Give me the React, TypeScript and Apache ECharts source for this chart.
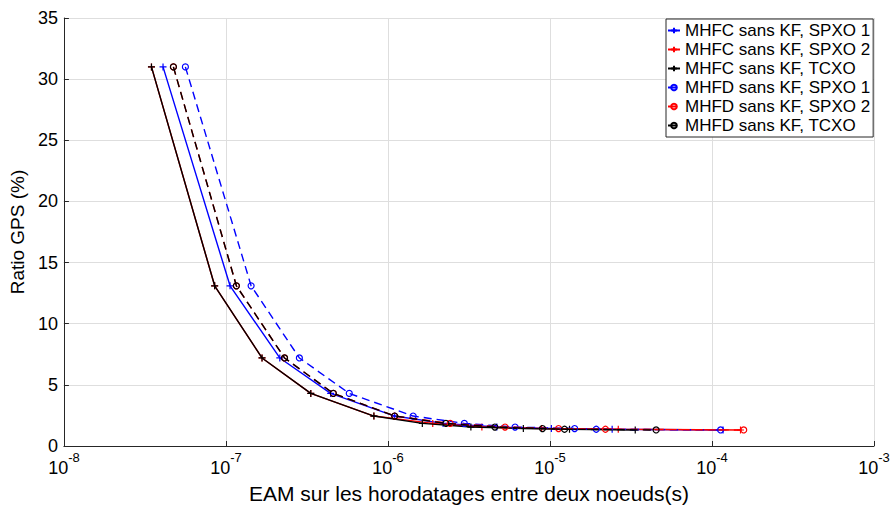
import React, { useEffect, useRef } from "react";
import * as echarts from "echarts";

// Series names (legend)
const seriesNames = [
  "MHFC sans KF, SPXO 1",
  "MHFC sans KF, SPXO 2",
  "MHFC sans KF, TCXO",
  "MHFD sans KF, SPXO 1",
  "MHFD sans KF, SPXO 2",
  "MHFD sans KF, TCXO",
];

// GPS ratio (%) levels, shared by every series
const gpsRatio = [31, 13.1, 7.2, 4.3, 2.45, 1.85, 1.55, 1.43, 1.37, 1.31];

// EAM (s) for each series
const eamMhfcSpxo1 = [4.09e-8, 1.06e-7, 2.15e-7, 4.43e-7, 1.1e-6, 2.19e-6, 4.7e-6, 1.02e-5, 2.42e-5, 1.17e-4];
const eamMhfcSpxo2 = [3.47e-8, 8.52e-8, 1.67e-7, 3.34e-7, 8.19e-7, 1.89e-6, 3.8e-6, 8.88e-6, 2.64e-5, 1.5e-4];
const eamMhfcTcxo = [3.47e-8, 8.52e-8, 1.67e-7, 3.34e-7, 8.19e-7, 1.63e-6, 3.25e-6, 6.85e-6, 1.32e-5, 3.36e-5];
const eamMhfdSpxo1 = [5.62e-8, 1.43e-7, 2.84e-7, 5.77e-7, 1.43e-6, 2.96e-6, 6.09e-6, 1.42e-5, 1.93e-5, 1.13e-4];
const eamMhfdSpxo2 = [4.74e-8, 1.16e-7, 2.3e-7, 4.6e-7, 1.1e-6, 2.42e-6, 5.28e-6, 1.13e-5, 2.2e-5, 1.57e-4];
const eamMhfdTcxo = [4.74e-8, 1.16e-7, 2.3e-7, 4.6e-7, 1.1e-6, 2.28e-6, 4.57e-6, 8.99e-6, 1.23e-5, 4.52e-5];

const seriesColors = ["#0000ff", "#ff0000", "#000000", "#0000ff", "#ff0000", "#000000"];

// Axis ranges
const xMin = 1e-8;
const xMax = 1e-3;
const yMin = 0;
const yMax = 35;
const yStep = 5;

const FONT = "'Liberation Sans', Arial, Helvetica, sans-serif";
const AXIS_COLOR = "#262626";
const GRID_COLOR = "#dedede";
const PLUS = "path://M0,5L10,5M5,0L5,10";

export default function App() {
  const ref = useRef<HTMLDivElement>(null);

  useEffect(() => {
    if (!ref.current) return;
    const chart = echarts.init(ref.current, null, { renderer: "svg" });
    const eams = [eamMhfcSpxo1, eamMhfcSpxo2, eamMhfcTcxo, eamMhfdSpxo1, eamMhfdSpxo2, eamMhfdTcxo];

    const series = seriesNames.map((name, i) => {
      const dashed = i >= 3;
      const color = seriesColors[i];
      return {
        name,
        type: "line",
        data: eams[i].map((x, j) => [x, gpsRatio[j]]),
        symbol: dashed ? "circle" : PLUS,
        symbolSize: dashed ? 6 : 7,
        showSymbol: true,
        lineStyle: { color, width: 1.4, type: dashed ? [8, 5] : "solid" },
        itemStyle: { color: "rgba(0,0,0,0)", borderColor: color, borderWidth: 1.2 },
        emphasis: { disabled: true },
        silent: true,
        clip: false,
        z: 2 + i,
      };
    });

    chart.setOption({
      animation: false,
      backgroundColor: "#ffffff",
      textStyle: { fontFamily: FONT },
      grid: { left: 60, right: 21, top: 18, bottom: 57, containLabel: false },
      xAxis: {
        type: "log",
        logBase: 10,
        min: xMin,
        max: xMax,
        name: "EAM sur les horodatages entre deux noeuds(s)",
        nameLocation: "middle",
        nameGap: 37,
        nameTextStyle: { fontSize: 21, color: "#000", fontFamily: FONT },
        axisLine: { show: true, onZero: false, lineStyle: { color: AXIS_COLOR, width: 1 } },
        axisTick: { show: true, inside: true, length: 5, lineStyle: { color: AXIS_COLOR } },
        minorTick: { show: false },
        splitLine: { show: true, lineStyle: { color: GRID_COLOR, width: 1 } },
        axisLabel: {
          show: true,
          margin: 5,
          showMinLabel: true,
          showMaxLabel: true,
          color: "#000",
          formatter: (v: number) => `{b|10}{s|${Math.round(Math.log10(v))}}`,
          rich: {
            b: { fontSize: 18, fontFamily: FONT, color: "#000", lineHeight: 34 },
            s: { fontSize: 13, fontFamily: FONT, color: "#000", lineHeight: 13, verticalAlign: "top" },
          },
        },
      },
      yAxis: {
        type: "value",
        min: yMin,
        max: yMax,
        interval: yStep,
        name: "Ratio GPS (%)",
        nameLocation: "middle",
        nameGap: 25,
        nameTextStyle: { fontSize: 19, color: "#000", fontFamily: FONT },
        axisLine: { show: true, onZero: false, lineStyle: { color: AXIS_COLOR, width: 1 } },
        axisTick: { show: true, inside: true, length: 5, lineStyle: { color: AXIS_COLOR } },
        splitLine: { show: true, lineStyle: { color: GRID_COLOR, width: 1 } },
        axisLabel: { fontSize: 18, margin: 6, color: "#000", fontFamily: FONT },
      },
      legend: {
        orient: "vertical",
        left: 666,
        top: 19,
        padding: [3, 3, 3, 1],
        itemWidth: 12,
        itemHeight: 7,
        itemGap: 2,
        backgroundColor: "#ffffff",
        borderColor: AXIS_COLOR,
        borderWidth: 1,
        borderRadius: 0,
        selectedMode: false,
        textStyle: { fontSize: 17, lineHeight: 17, color: "#000", fontFamily: FONT },
        data: seriesNames,
      },
      series,
    } as any);

    return () => chart.dispose();
  }, []);

  return (
    <div
      ref={ref}
      style={{ position: "absolute", left: 0, top: 0, width: 895, height: 509 }}
    />
  );
}
